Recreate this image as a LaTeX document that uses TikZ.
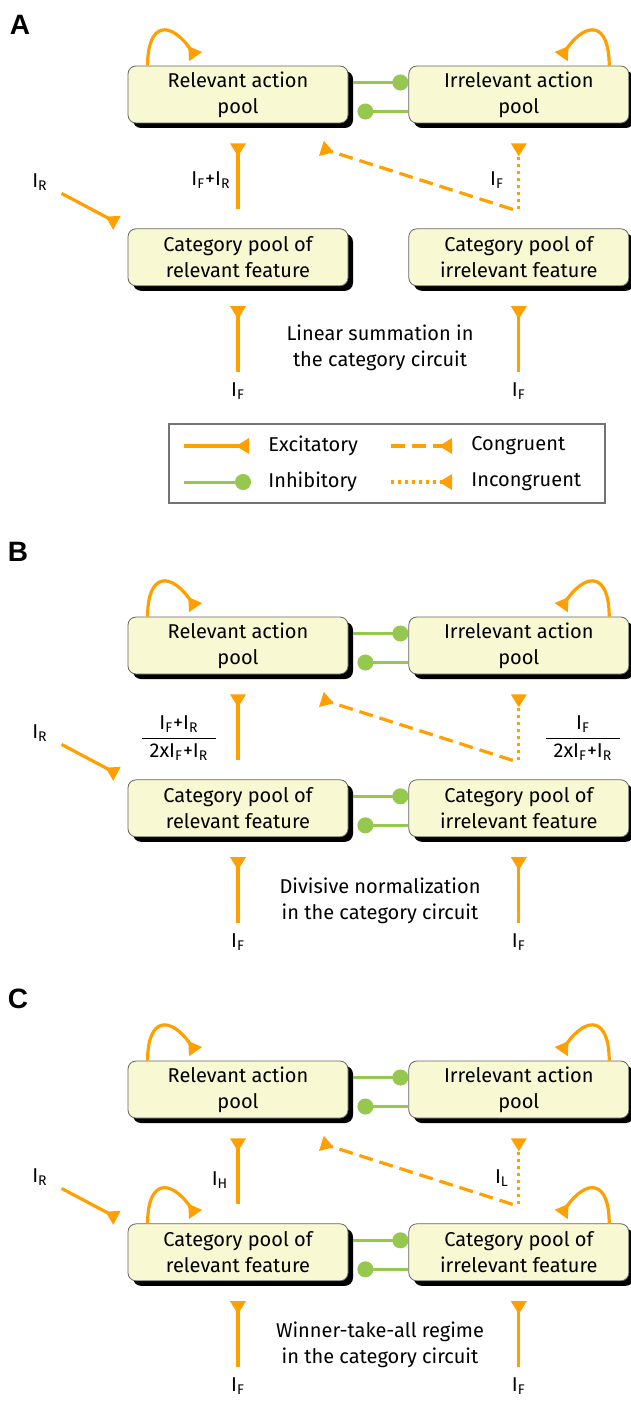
\documentclass[tikz,border=0pt]{standalone}
\usepackage{amsmath}
\usepackage{fontspec}
\setmainfont{Fira Sans}
\newfontfamily\panelfont{Liberation Sans}
\usepackage{tikz}
\usetikzlibrary{arrows.meta,positioning,shadows}
\definecolor{naranja}{RGB}{255,160,0}
\definecolor{verdeclaro}{RGB}{150,200,80}
\definecolor{crema}{RGB}{248,248,210}
\newcommand{\Isub}[1]{I\textsubscript{#1}}

\begin{document}
\begin{tikzpicture}[x=0.5pt,y=0.5pt,
pool/.style={draw=black!60,rounded corners=4pt,fill=crema,minimum width=110pt,minimum height=28.5pt,inner sep=2pt,align=center,font=\fontsize{10}{13}\selectfont,drop shadow={shadow xshift=2.5pt,shadow yshift=-2.5pt,fill=black,opacity=1}},
exc/.style={draw=naranja,line width=1.6pt,-{Triangle[reversed,length=6.5pt,width=7.5pt]}},
cong/.style={exc,dash pattern=on 7pt off 3.5pt},
incong/.style={exc,dash pattern=on 1.5pt off 2pt},
inh/.style={draw=verdeclaro,line width=1.5pt,-{Circle[length=8pt]}},
selfloop/.style={exc,looseness=2.3},
lbl/.style={font=\fontsize{10}{12}\selectfont,inner sep=1pt},
txt/.style={align=center,font=\fontsize{10}{13}\selectfont},
panel/.style={font=\panelfont\bfseries\fontsize{14}{14}\selectfont}
]
\useasboundingbox (0,0) rectangle (631,-1402);

% the same circuit in all three panels
\foreach \p/\dy in {A/0,B/551,C/995}{
\node[pool] (actL\p) at (238,-94.5-\dy) {Relevant action\\pool};
\node[pool,right=30pt of actL\p] (actR\p) {Irrelevant action\\pool};
\node[pool,below=52.5pt of actL\p] (catL\p) {Category pool of\\relevant feature};
\node[pool,below=52.5pt of actR\p] (catR\p) {Category pool of\\irrelevant feature};
\node[lbl] (iR\p) at (40,-182-\dy) {\Isub{R}};
\node[lbl,below=47pt of catL\p] (iFL\p) {\Isub{F}};
\node[lbl,below=47pt of catR\p] (iFR\p) {\Isub{F}};
\draw[selfloop] ([xshift=10pt]actL\p.north west) to[out=90,in=125] ([xshift=34pt,yshift=4.5pt]actL\p.north west);
\draw[selfloop] ([xshift=-10pt]actR\p.north east) to[out=90,in=55] ([xshift=-34pt,yshift=4.5pt]actR\p.north east);
\draw[inh,shorten <=2.5pt] ([yshift=6pt]actL\p.east) -- ([yshift=6pt]actR\p.west);
\draw[inh,shorten >=4.5pt] ([yshift=-8.5pt]actR\p.west) -- ([yshift=-8.5pt]actL\p.east);
\draw[exc,shorten <=9.5pt,shorten >=10pt] (catL\p) -- (actL\p);
\draw[incong,shorten <=9.5pt,shorten >=10pt] (catR\p) -- (actR\p);
\draw[cong] ([shift={(-3pt,9.5pt)}]catR\p.north) -- ([shift={(-13.5pt,-12.5pt)}]actL\p.south east);
\draw[exc,shorten <=6.5pt,shorten >=6pt] (iR\p) -- (catL\p.north west);
\draw[exc,shorten <=4pt,shorten >=10pt] (iFL\p) -- (catL\p);
\draw[exc,shorten <=4pt,shorten >=10pt] (iFR\p) -- (catR\p);
}

% A: linear summation
\node[panel] (letA) at (20,-25) {A};
\node[lbl] (inLA) at (211,-180) {\Isub{F}+\Isub{R}};
\node[lbl] (inRA) at (497,-180) {\Isub{F}};
\node[txt] (regA) at (380,-348) {Linear summation in\\the category circuit};
\node[draw=black!55,line width=0.6pt,minimum width=218pt,minimum height=39.5pt] (legend) at (387,-463.5) {};
\foreach \s/\x/\xe/\tx/\y/\word in {exc/184/249/268/446/Excitatory,inh/184/251/268/482/Inhibitory,cong/391/452/471/446/Congruent,incong/391/452/471/482/Incongruent}{
\coordinate (key\s) at (\x,-\y);
\coordinate (end\s) at (\xe,-\y);
\node[txt,anchor=west,inner sep=0pt] (lab\s) at (\tx,-\y) {\word};
\draw[\s] (key\s) -- (end\s);
}

% B: divisive normalization
\node[panel] (letB) at (18,-552) {B};
\node[lbl] (inLB) at (179,-738) {$\dfrac{\text{\Isub{F}+\Isub{R}}}{\hspace{4pt}\text{2x\Isub{F}+\Isub{R}}\hspace{4pt}}$};
\node[lbl] (inRB) at (583,-738) {$\dfrac{\text{\Isub{F}}}{\hspace{4pt}\text{2x\Isub{F}+\Isub{R}}\hspace{4pt}}$};
\node[txt] (regB) at (380,-900.5) {Divisive normalization\\in the category circuit};

% C: winner-take-all
\node[panel] (letC) at (18,-999) {C};
\node[lbl] (inLC) at (220,-1180) {\Isub{H}};
\node[lbl] (inRC) at (502,-1178) {\Isub{L}};
\node[txt] (regC) at (380,-1344.5) {Winner-take-all regime\\in the category circuit};
\draw[selfloop] ([xshift=10pt]catLC.north west) to[out=90,in=125] ([xshift=34pt,yshift=4.5pt]catLC.north west);
\draw[selfloop] ([xshift=-10pt]catRC.north east) to[out=90,in=55] ([xshift=-34pt,yshift=4.5pt]catRC.north east);

\foreach \p in {B,C}{
\draw[inh,shorten <=2.5pt] ([yshift=6pt]catL\p.east) -- ([yshift=6pt]catR\p.west);
\draw[inh,shorten >=4.5pt] ([yshift=-8.5pt]catR\p.west) -- ([yshift=-8.5pt]catL\p.east);
}
\end{tikzpicture}
\end{document}
